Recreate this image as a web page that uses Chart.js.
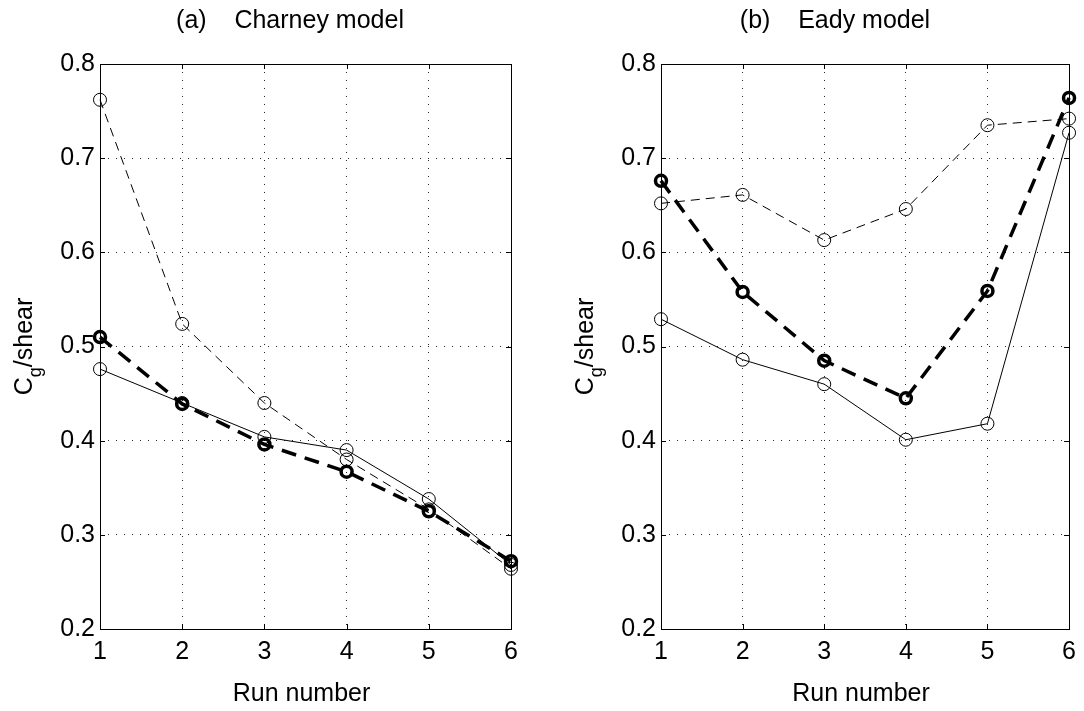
<!DOCTYPE html>
<html>
<head>
<meta charset="utf-8">
<script src="https://cdn.jsdelivr.net/npm/chart.js@4"></script>
<style>
  body { margin: 0; background: #fff; }
  .panel { position: absolute; top: 0; width: 542px; height: 711px; }
</style>
</head>
<body>
<div class="panel" style="left:0"><canvas id="charney" width="542" height="711"></canvas></div>
<div class="panel" style="left:542px"><canvas id="eady" width="542" height="711"></canvas></div>
<script>
// run numbers on the x axis
var runs = [1, 2, 3, 4, 5, 6];
var yTicks = [0.2, 0.3, 0.4, 0.5, 0.6, 0.7, 0.8];

// (a) Charney model
var charneySolid  = [0.476, 0.440, 0.404, 0.390, 0.338, 0.268];
var charneyDashed = [0.762, 0.524, 0.440, 0.380, 0.327, 0.264];
var charneyBold   = [0.510, 0.439, 0.396, 0.367, 0.325, 0.272];

// (b) Eady model
var eadySolid  = [0.529, 0.486, 0.460, 0.401, 0.418, 0.727];
var eadyDashed = [0.652, 0.661, 0.613, 0.646, 0.735, 0.742];
var eadyBold   = [0.676, 0.558, 0.485, 0.445, 0.559, 0.764];

var FONT = '"Liberation Sans", Arial, Helvetica, sans-serif';

function points(vals) {
  return vals.map(function(v, i) { return { x: runs[i], y: v }; });
}

function series(vals, kind) {
  var bold = kind === 'bold';
  return {
    data: points(vals),
    borderColor: '#000',
    borderWidth: bold ? 3.5 : 1,
    borderDash: kind === 'solid' ? [] : (bold ? [15, 9] : [9, 6]),
    pointStyle: 'circle',
    pointRadius: bold ? 5.5 : 6.5,
    pointBorderWidth: bold ? 3.5 : 1,
    pointBorderColor: '#000',
    pointBackgroundColor: 'rgba(0,0,0,0)',
    tension: 0,
    fill: false,
    clip: false
  };
}

// frame, inner ticks, titles and axis labels (MATLAB style)
var panelDecor = {
  id: 'panelDecor',
  beforeDatasetsDraw: function(chart) {
    var ctx = chart.ctx, a = chart.chartArea;
    var xs = chart.scales.x, ys = chart.scales.y;
    ctx.save();
    ctx.strokeStyle = '#000';
    ctx.lineWidth = 1;
    ctx.strokeRect(Math.round(a.left) + 0.5, Math.round(a.top) + 0.5,
                   Math.round(a.right - a.left), Math.round(a.bottom - a.top));
    ctx.beginPath();
    runs.forEach(function(r) {
      var x = Math.round(xs.getPixelForValue(r)) + 0.5;
      ctx.moveTo(x, a.bottom); ctx.lineTo(x, a.bottom - 5);
      ctx.moveTo(x, a.top); ctx.lineTo(x, a.top + 5);
    });
    yTicks.forEach(function(t) {
      var y = Math.round(ys.getPixelForValue(t)) + 0.5;
      ctx.moveTo(a.left, y); ctx.lineTo(a.left + 5, y);
      ctx.moveTo(a.right, y); ctx.lineTo(a.right - 5, y);
    });
    ctx.stroke();
    ctx.restore();
  },
  afterDraw: function(chart, args, opts) {
    var ctx = chart.ctx, a = chart.chartArea;
    ctx.save();
    ctx.fillStyle = '#000';
    ctx.textBaseline = 'alphabetic';

    ctx.font = '25px ' + FONT;
    ctx.textAlign = 'center';
    ctx.fillText(opts.title, opts.titleX, 28);
    ctx.fillText('Run number', (a.left + a.right) / 2 - 4, 701);

    // C_g/shear, rotated
    ctx.translate(a.left - 68, (a.top + a.bottom) / 2);
    ctx.rotate(-Math.PI / 2);
    ctx.textAlign = 'left';
    ctx.font = '25px ' + FONT;
    var wC = ctx.measureText('C').width;
    var wS = ctx.measureText('/shear').width;
    ctx.font = '18px ' + FONT;
    var wg = ctx.measureText('g').width;
    var x0 = -(wC + wg + wS) / 2;
    ctx.font = '25px ' + FONT;
    ctx.fillText('C', x0, 0);
    ctx.font = '18px ' + FONT;
    ctx.fillText('g', x0 + wC, 9);
    ctx.font = '25px ' + FONT;
    ctx.fillText('/shear', x0 + wC + wg, 0);
    ctx.restore();
  }
};

function makePanel(id, solid, dashed, bold, title, titleX, leftW, rightPad) {
  return new Chart(document.getElementById(id).getContext('2d'), {
    type: 'line',
    data: {
      datasets: [series(solid, 'solid'), series(dashed, 'dashed'), series(bold, 'bold')]
    },
    options: {
      responsive: false,
      devicePixelRatio: 1,
      animation: false,
      events: [],
      layout: { padding: { top: 64, right: rightPad, left: 0, bottom: 0 } },
      scales: {
        x: {
          type: 'linear',
          min: 1,
          max: 6,
          afterFit: function(s) { s.height = 82; },
          afterBuildTicks: function(s) { s.ticks = runs.map(function(r) { return { value: r }; }); },
          ticks: { color: '#000', font: { size: 25, family: FONT }, padding: 8 },
          grid: { color: 'rgba(0,0,0,0.85)', lineWidth: 1, drawTicks: false },
          border: { display: false, dash: [1, 7] }
        },
        y: {
          min: 0.2,
          max: 0.8,
          afterFit: function(s) { s.width = leftW; },
          afterBuildTicks: function(s) { s.ticks = yTicks.map(function(t) { return { value: t }; }); },
          ticks: {
            color: '#000',
            font: { size: 25, family: FONT },
            padding: 5,
            callback: function(v) { return v.toFixed(1); }
          },
          grid: { color: 'rgba(0,0,0,0.85)', lineWidth: 1, drawTicks: false },
          border: { display: false, dash: [1, 7] }
        }
      },
      plugins: {
        legend: { display: false },
        tooltip: { enabled: false },
        panelDecor: { title: title, titleX: titleX }
      }
    },
    plugins: [panelDecor]
  });
}

makePanel('charney', charneySolid, charneyDashed, charneyBold, '(a)    Charney model', 290, 100, 31);
makePanel('eady', eadySolid, eadyDashed, eadyBold, '(b)    Eady model', 293, 119, 12);
</script>
</body>
</html>
